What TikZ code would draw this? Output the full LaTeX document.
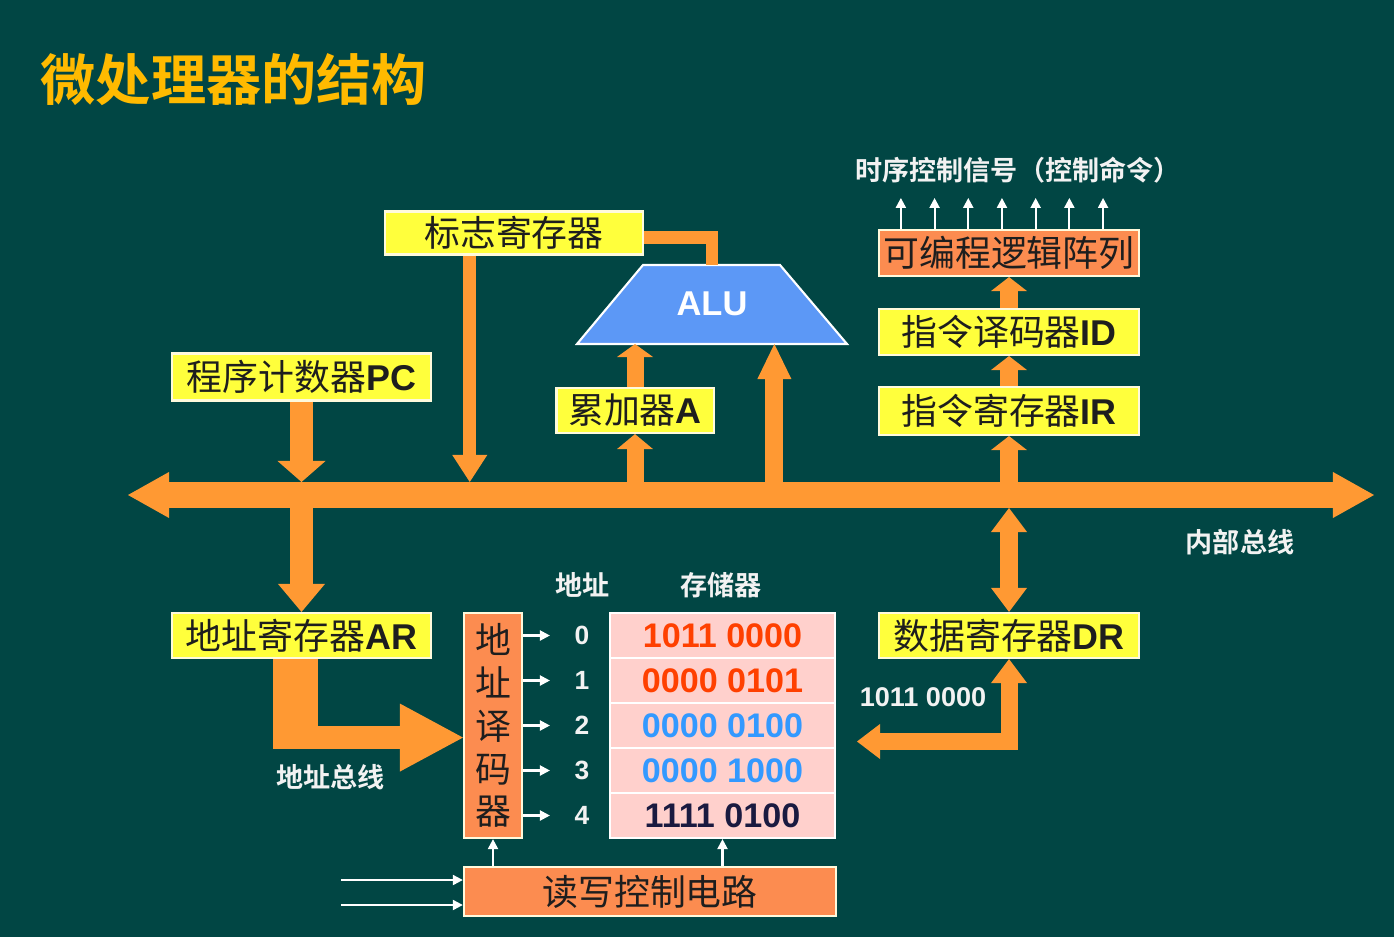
\documentclass[tikz,border=0pt]{standalone}
\usepackage{fontspec}
\setmainfont{Liberation Sans}
\newfontfamily\cjk[BoldFont={Noto Sans CJK SC Bold}]{Noto Sans CJK SC}
\usepackage{tikz}
\usetikzlibrary{arrows.meta,calc}

\definecolor{bgteal}{RGB}{1,70,68}
\definecolor{titleyellow}{RGB}{255,186,0}
\definecolor{regyellow}{RGB}{255,255,60}
\definecolor{rim}{RGB}{255,250,220}
\definecolor{arrowor}{RGB}{255,153,51}
\definecolor{boxorange}{RGB}{252,140,80}
\definecolor{mempink}{RGB}{255,208,204}
\definecolor{alublue}{RGB}{92,152,246}
\definecolor{digred}{RGB}{255,64,0}
\definecolor{digblue}{RGB}{51,153,255}
\definecolor{dignavy}{RGB}{26,26,64}
\definecolor{ink}{RGB}{30,30,30}
\definecolor{labelwhite}{RGB}{242,242,242}

\newcommand\en[1]{{\rmfamily\bfseries #1}}

\begin{document}
\begin{tikzpicture}[x=0.01cm, y=-0.01cm,
    reg/.style={draw=rim, line width=0.6pt, fill=regyellow, text=ink, inner sep=0pt,
        minimum width=2.6cm, font=\cjk\fontsize{10.2}{12}\selectfont},
    orbox/.style={reg, fill=boxorange},
    memrow/.style={draw=white, line width=0.6pt, fill=mempink, inner sep=0pt,
        minimum width=2.25cm, minimum height=0.45cm, font=\bfseries\fontsize{9.7}{11}\selectfont},
    lbl/.style={text=labelwhite, font=\cjk\bfseries\fontsize{7.7}{9}\selectfont},
    numlbl/.style={text=labelwhite, inner sep=0pt, font=\bfseries\fontsize{7.5}{9}\selectfont},
    fatarr/.style n args={3}{draw=arrowor, line width=#1, line join=miter,
        -{Triangle[width=#2, length=#3, line width=0pt]}},
    fatboth/.style n args={3}{draw=arrowor, line width=#1, line join=miter,
        {Triangle[width=#2, length=#3, line width=0pt]}-{Triangle[width=#2, length=#3, line width=0pt]}},
    thinarr/.style={draw=white, line width=0.6pt, -{Triangle[width=0.1cm, length=0.1cm]}}
]
    \fill[bgteal] (0,0) rectangle (1394,937);
    \useasboundingbox (0,0) rectangle (1394,937);

    % Title
    \node[anchor=west, inner sep=0pt, text=titleyellow, font=\cjk\bfseries\fontsize{15.7}{18}\selectfont]
        (title) at (40,80) {微处理器的结构};

    % ALU
    \coordinate (alutl) at (643,265);
    \coordinate (alutr) at (780,265);
    \coordinate (alubr) at (847,344);
    \coordinate (alubl) at (577,344);
    \filldraw[fill=alublue, draw=white, line width=0.6pt] (alutl) -- (alutr) -- (alubr) -- (alubl) -- cycle;
    \node[text=white, font=\bfseries\fontsize{9.8}{11}\selectfont] (alu) at (712,304) {ALU};

    % Registers
    \node[reg, minimum width=2.58cm, minimum height=0.43cm] (flag) at (514,233) {标志寄存器};
    \node[reg, minimum width=2.59cm, minimum height=0.47cm] (pc) at (301.5,377) {程序计数器\en{PC}};
    \node[reg, minimum width=1.57cm, minimum height=0.45cm] (acc) at (635,410.5) {累加器\en{A}};
    \node[orbox, minimum height=0.46cm] (pla) at (1009,253) {可编程逻辑阵列};
    \node[reg, minimum height=0.46cm] (id) at (1009,332) {指令译码器\en{ID}};
    \node[reg, minimum height=0.48cm] (ir) at (1009,411) {指令寄存器\en{IR}};
    \node[reg, minimum width=2.59cm, minimum height=0.45cm] (ar) at (301.5,635.5) {地址寄存器\en{AR}};
    \node[reg, minimum height=0.45cm] (dr) at (1009,635.5) {数据寄存器\en{DR}};

    % Memory side
    \node[orbox, minimum width=0.58cm, minimum height=2.25cm, align=center,
        font=\cjk\fontsize{10.2}{12.2}\selectfont] (dec) at (493,725.5) {地\\址\\译\\码\\器};
    \foreach \v/\c [count=\k from 0] in {1011 0000/digred, 0000 0101/digred, 0000 0100/digblue,
        0000 1000/digblue, 1111 0100/dignavy}
        \node[memrow, text=\c] (mem\k) at (722.5,{635.5+45*\k}) {\v};
    \node[orbox, minimum width=3.72cm, minimum height=0.49cm] (rw) at (650,891.5) {读写控制电路};

    \node[lbl] (hdaddr) at (582.5,585) {地址};
    \node[lbl] (hdmem) at (721,585) {存储器};
    \node[lbl] (abuslbl) at (330.5,777) {地址总线};
    \node[lbl] (ibuslbl) at (1240,542) {内部总线};
    \node[lbl] (ctrllbl) at (1018,170) {时序控制信号（控制命令）};
    \node[text=labelwhite, font=\bfseries\fontsize{7.7}{9}\selectfont] (drval) at (923,697) {1011 0000};

    % Internal bus
    \coordinate (busW) at (128,495);
    \coordinate (busE) at (1374,495);
    \coordinate (bustop) at (0,482);
    \coordinate (busbot) at (0,508);
    \draw[fatboth={0.26cm}{0.46cm}{0.41cm}] (busW) -- (busE);

    % Left column
    \draw[fatarr={0.23cm}{0.48cm}{0.21cm}] (pc.south) -- (pc.south |- bustop);
    \draw[fatarr={0.23cm}{0.47cm}{0.28cm}] (ar.north |- busbot) -- (ar.north);
    \coordinate (fdrop) at ($(flag.south west)!0.33!(flag.south east)$);
    \draw[fatarr={0.13cm}{0.35cm}{0.27cm}] (fdrop) -- (fdrop |- bustop);

    % ALU inputs
    \coordinate (alutop) at ($(alutl)!0.5!(alutr)$);
    \draw[draw=arrowor, line width=0.12cm, line join=miter] ([yshift=-0.045cm]flag.east) -| (alutop);
    \draw[fatarr={0.17cm}{0.36cm}{0.15cm}] (acc.south |- bustop) -- (acc.south);
    \draw[fatarr={0.17cm}{0.36cm}{0.13cm}] (acc.north) -- (acc.north |- alubl);
    \coordinate (aluin) at ($(alubl)!0.731!(alubr)$);
    \draw[fatarr={0.18cm}{0.34cm}{0.35cm}] (aluin |- bustop) -- (aluin);

    % Control unit
    \draw[fatarr={0.18cm}{0.36cm}{0.14cm}] (ir.south |- bustop) -- (ir.south);
    \draw[fatarr={0.18cm}{0.36cm}{0.14cm}] (ir.north) -- (id.south);
    \draw[fatarr={0.18cm}{0.36cm}{0.14cm}] (id.north) -- (pla.south);
    \foreach \k in {0,...,6}
        \draw[thinarr] ($(pla.north west)+({23+33.7*\k},0)$) -- ++(0,-31);

    % Data register
    \draw[fatboth={0.18cm}{0.36cm}{0.24cm}] (dr.north |- busbot) -- (dr.north);
    \coordinate (drout) at (857,741.5);
    \draw[draw=arrowor, line width=0.17cm, line join=miter,
        {Triangle[width=0.35cm, length=0.23cm, line width=0pt]}-{Triangle[width=0.36cm, length=0.24cm, line width=0pt]}]
        (drout) -| (dr.south);

    % Address bus
    \draw[draw=arrowor, line width=0.45cm] ([xshift=-0.06cm]ar.south) -- ++(0,90);
    \coordinate (abus) at ($(ar.south)+(-28.5,78.5)$);
    \draw[fatarr={0.23cm}{0.68cm}{0.63cm}] (abus) -- (abus -| dec.west);

    % Decoder outputs
    \foreach \k in {0,...,4} {
        \node[numlbl] (num\k) at (582,{635.5+45*\k}) {\k};
        \draw[thinarr] (dec.east |- num\k) -- ([xshift=-0.24cm]num\k.west);
    }

    % Read/write control
    \draw[thinarr] (dec.south |- rw.north) -- (dec.south);
    \draw[thinarr] (mem4.south |- rw.north) -- (mem4.south);
    \foreach \dy in {-11.5,13.5}
        \draw[thinarr] ($(rw.west)+(-122,\dy)$) -- ($(rw.west)+(0,\dy)$);
\end{tikzpicture}
\end{document}
